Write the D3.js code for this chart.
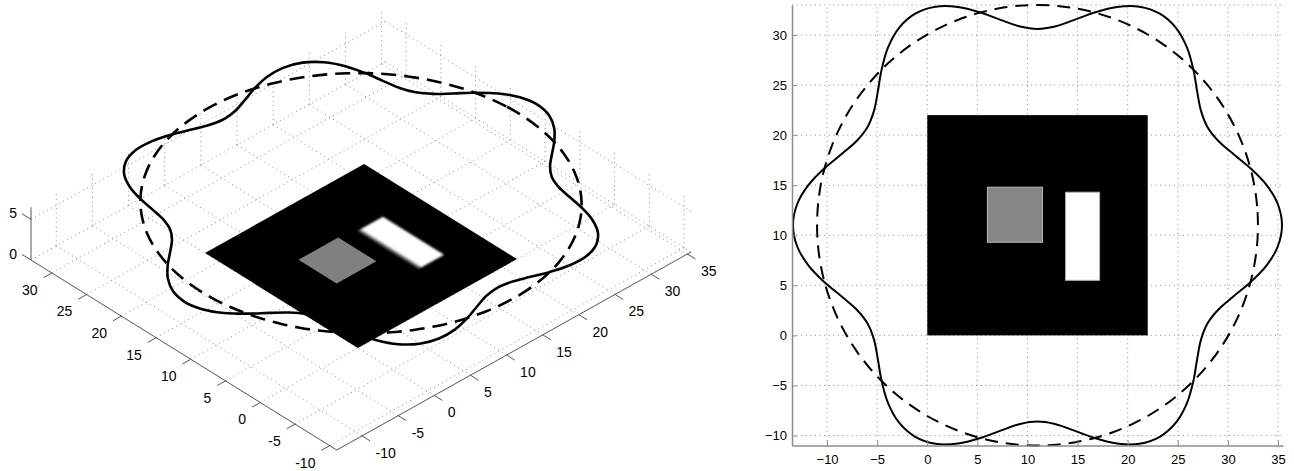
<!DOCTYPE html>
<html><head><meta charset="utf-8">
<script src="https://cdn.jsdelivr.net/npm/d3@7"></script>
<style>body{margin:0;background:#fff;overflow:hidden}</style>
</head><body>
<svg id="c" width="1294" height="471"></svg>
<script>
// ---- data ----
const xTicks = [-10, -5, 0, 5, 10, 15, 20, 25, 30, 35];
const yTicks = [-10, -5, 0, 5, 10, 15, 20, 25, 30];
const zTicks = [0, 5];
const xLimits = [-13.5, 35.5];
const yLimits = [-11, 33];
const zLimits = [0, 6.5];
const curveCenter = [11, 11];
const curveHeight = 6.5;
const curveAngleDeg = [0,5,10,15,20,25,30,35,40,45,50,55,60,65,70,75,80,85,90,95,100,105,110,115,
  120,125,130,135,140,145,150,155,160,165,170,175,180,185,190,195,200,205,210,215,220,225,230,235,
  240,245,250,255,260,265,270,275,280,285,290,295,300,305,310,315,320,325,330,335,340,345,350,355];
const solidRadius = [24.4,24.08,23.2,22,20.8,19.92,19.6,19.92,20.8,22,23.2,24.08,
  24.4,24.08,23.2,22,20.8,19.92,19.6,19.92,20.8,22,23.2,24.08,
  24.4,24.08,23.2,22,20.8,19.92,19.6,19.92,20.8,22,23.2,24.08,
  24.4,24.08,23.2,22,20.8,19.92,19.6,19.92,20.8,22,23.2,24.08,
  24.4,24.08,23.2,22,20.8,19.92,19.6,19.92,20.8,22,23.2,24.08,
  24.4,24.08,23.2,22,20.8,19.92,19.6,19.92,20.8,22,23.2,24.08];
const dashedRadius = 22;
const blackSquareX = [0, 22], blackSquareY = [0, 22];
const graySquareX = [6, 11.5], graySquareY = [9.3, 14.8];
const whiteRectX = [13.8, 17.2], whiteRectY = [5.5, 14.3];

const svg = d3.select("#c");
const FONT = "'Liberation Sans', Arial, Helvetica, sans-serif";
const GRID = "#8a8a8a", DOTS = "1,3.6";

function curvePoints(radii) {
  return curveAngleDeg.map((a, i) => {
    const r = Array.isArray(radii) ? radii[i] : radii;
    const t = a * Math.PI / 180;
    return [curveCenter[0] + r * Math.cos(t), curveCenter[1] + r * Math.sin(t)];
  });
}
const solidPts = curvePoints(solidRadius);
const dashedPts = curvePoints(dashedRadius);

const defs = svg.append("defs");
defs.append("filter").attr("id", "soft").attr("x", "-20%").attr("y", "-20%").attr("width", "140%").attr("height", "140%")
  .append("feGaussianBlur").attr("stdDeviation", 0.6);
defs.append("filter").attr("id", "soft2").attr("x", "-20%").attr("y", "-20%").attr("width", "140%").attr("height", "140%")
  .append("feGaussianBlur").attr("stdDeviation", 1.1);

// ================= LEFT: 3D view =================
const P = { ox: 336.7, oy: 450, vx: [354.3, -198], vy: [-305.7, -190], vz: [0, -52.8] };
const xs3 = d3.scaleLinear().domain(xLimits).range([0, 1]);
const ys3 = d3.scaleLinear().domain(yLimits).range([0, 1]);
const zs3 = d3.scaleLinear().domain(zLimits).range([0, 1]);
function proj(x, y, z) {
  const a = xs3(x), b = ys3(y), c = zs3(z);
  return [P.ox + a * P.vx[0] + b * P.vy[0] + c * P.vz[0],
          P.oy + a * P.vx[1] + b * P.vy[1] + c * P.vz[1]];
}
const nrm = v => { const l = Math.hypot(v[0], v[1]); return [v[0] / l, v[1] / l]; };
const ux = nrm(P.vx), uy = nrm(P.vy);
const [x0, x1] = xLimits, [y0, y1] = yLimits, [z0, z1] = zLimits;

const L = svg.append("g");
const seg = (a, b) => "M" + a[0] + "," + a[1] + "L" + b[0] + "," + b[1];
let gridD = "";
xTicks.forEach(xt => { gridD += seg(proj(xt, y0, 0), proj(xt, y1, 0)); gridD += seg(proj(xt, y1, z0), proj(xt, y1, z1)); });
yTicks.forEach(yt => { gridD += seg(proj(x0, yt, 0), proj(x1, yt, 0)); gridD += seg(proj(x1, yt, z0), proj(x1, yt, z1)); });
zTicks.forEach(zt => { gridD += seg(proj(x0, y1, zt), proj(x1, y1, zt)); gridD += seg(proj(x1, y0, zt), proj(x1, y1, zt)); });
L.append("path").attr("d", gridD).attr("fill", "none").attr("stroke", GRID).attr("stroke-width", 1).attr("stroke-dasharray", DOTS);

const line3 = d3.line().curve(d3.curveCatmullRomClosed);
L.append("path").attr("d", line3(dashedPts.map(p => proj(p[0], p[1], curveHeight))))
  .attr("fill", "none").attr("stroke", "#000").attr("stroke-width", 2.6).attr("stroke-dasharray", "15,8");
L.append("path").attr("d", line3(solidPts.map(p => proj(p[0], p[1], curveHeight))))
  .attr("fill", "none").attr("stroke", "#000").attr("stroke-width", 2.6);

function quad3(xr, yr) {
  return [proj(xr[0], yr[0], 0), proj(xr[1], yr[0], 0), proj(xr[1], yr[1], 0), proj(xr[0], yr[1], 0)];
}
const poly = d3.line().curve(d3.curveLinearClosed);
L.append("path").attr("d", poly(quad3(blackSquareX, blackSquareY))).attr("fill", "#000");
L.append("path").attr("d", poly(quad3(graySquareX, graySquareY))).attr("fill", "#808080").attr("filter", "url(#soft)");
// white block: a soft grey band along its low-x side, then the white top
const wb = L.append("g").attr("filter", "url(#soft2)");
wb.append("path").attr("d", poly(quad3([whiteRectX[0] - 0.1, whiteRectX[0] + 0.3], whiteRectY))).attr("fill", "#6a6a6a");
wb.append("path").attr("d", poly(quad3([whiteRectX[0] + 0.3, whiteRectX[1]], whiteRectY))).attr("fill", "#fff");

// axes
const AX = "#555";
L.append("path").attr("d", seg(proj(x0, y1, 0), proj(x0, y0, 0)) + seg(proj(x0, y0, 0), proj(x1, y0, 0)) + seg(proj(x0, y1, z0), proj(x0, y1, z1)))
  .attr("fill", "none").attr("stroke", AX).attr("stroke-width", 1);
let tickD = "";
const lab3 = L.append("g").attr("font-family", FONT).attr("font-size", 14).attr("fill", "#000");
yTicks.forEach(yt => {
  const p = proj(x0, yt, 0);
  tickD += seg(p, [p[0] - ux[0] * 9.5, p[1] - ux[1] * 9.5]);
  lab3.append("text").attr("x", p[0] - 14.3).attr("y", p[1] + 17).attr("dy", "0.35em").attr("text-anchor", "end").text(yt);
});
xTicks.forEach(xt => {
  const p = proj(xt, y0, 0);
  tickD += seg(p, [p[0] - uy[0] * 9.5, p[1] - uy[1] * 9.5]);
  lab3.append("text").attr("x", p[0] + 13.5).attr("y", p[1] + 17).attr("dy", "0.35em").attr("text-anchor", "start").text(xt);
});
zTicks.forEach(zt => {
  const p = proj(x0, y1, zt);
  tickD += seg(p, [p[0] + uy[0] * 10.5, p[1] + uy[1] * 10.5]);
  lab3.append("text").attr("x", p[0] - 14).attr("y", p[1] - 6).attr("dy", "0.35em").attr("text-anchor", "end").text(zt);
});
L.append("path").attr("d", tickD).attr("fill", "none").attr("stroke", AX).attr("stroke-width", 1);

// ================= RIGHT: top view =================
const x2 = d3.scaleLinear().domain(xLimits).range([792, 1283]);
const y2 = d3.scaleLinear().domain(yLimits).range([445.5, 5]);
const R = svg.append("g");
let g2 = "";
xTicks.forEach(xt => { g2 += seg([x2(xt), y2(y0)], [x2(xt), y2(y1)]); });
yTicks.forEach(yt => { g2 += seg([x2(x0), y2(yt)], [x2(x1), y2(yt)]); });
g2 += seg([x2(x0), y2(y1)], [x2(x1), y2(y1)]);
R.append("path").attr("d", g2).attr("fill", "none").attr("stroke", GRID).attr("stroke-width", 1).attr("stroke-dasharray", DOTS);

const rect2 = (xr, yr) => R.append("rect").attr("x", x2(xr[0])).attr("y", y2(yr[1]))
  .attr("width", x2(xr[1]) - x2(xr[0])).attr("height", y2(yr[0]) - y2(yr[1]));
rect2(blackSquareX, blackSquareY).attr("fill", "#000");
rect2(graySquareX, graySquareY).attr("fill", "#858585").attr("stroke", "#b8b8b8").attr("stroke-width", 1);
rect2(whiteRectX, whiteRectY).attr("fill", "#fff").attr("stroke", "#b0b0b0").attr("stroke-width", 1);

const line2 = d3.line().x(d => x2(d[0])).y(d => y2(d[1])).curve(d3.curveCatmullRomClosed);
R.append("path").attr("d", line2(dashedPts)).attr("fill", "none").attr("stroke", "#000").attr("stroke-width", 2).attr("stroke-dasharray", "13,8");
R.append("path").attr("d", line2(solidPts)).attr("fill", "none").attr("stroke", "#000").attr("stroke-width", 2);

const ax2b = R.append("g").attr("transform", `translate(0,${y2(y0)})`)
  .call(d3.axisBottom(x2).tickValues(xTicks).tickSizeInner(-5).tickSizeOuter(0).tickPadding(9));
const ax2l = R.append("g").attr("transform", `translate(${x2(x0)},0)`)
  .call(d3.axisLeft(y2).tickValues(yTicks).tickSizeInner(-5).tickSizeOuter(0).tickPadding(5));
[ax2b, ax2l].forEach(a => {
  a.select(".domain").attr("stroke", "#8c8c8c").attr("stroke-width", 1.5);
  a.selectAll(".tick line").attr("stroke", "#8c8c8c");
  a.selectAll("text").attr("font-family", FONT).attr("font-size", 13).attr("fill", "#000");
});
</script>
</body></html>
